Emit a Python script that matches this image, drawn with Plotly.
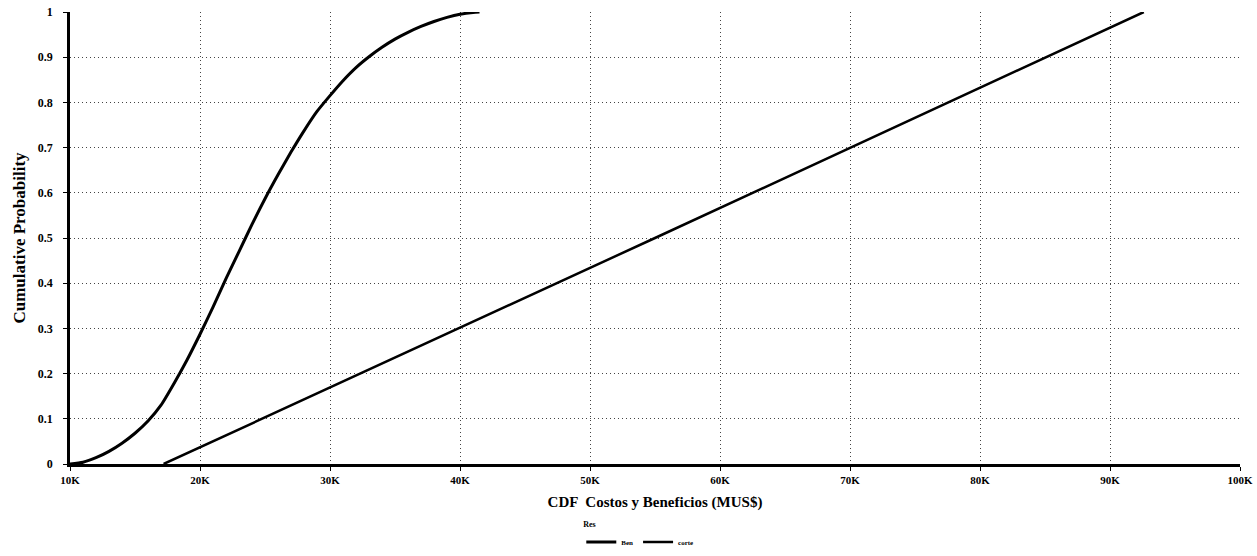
import plotly.graph_objects as go

# Data (x in thousands of MUS$)
ben_x = [10, 11, 12, 13, 14, 15, 16, 17, 18, 19, 20, 21, 22, 23, 24, 25, 26, 27, 28, 29, 30,
         31, 32, 33, 34, 35, 36, 37, 38, 39, 40, 41, 41.5]
ben_y = [0.0, 0.004, 0.014, 0.028, 0.046, 0.068, 0.095, 0.13, 0.178, 0.23, 0.287, 0.347, 0.41,
         0.47, 0.53, 0.587, 0.64, 0.69, 0.737, 0.78, 0.815, 0.848, 0.877, 0.901, 0.922, 0.94,
         0.955, 0.968, 0.979, 0.988, 0.995, 0.999, 1.0]

corte_x = [17.2, 55.0, 92.6]
corte_y = [0.0, 0.50, 1.0]

x_tickvals = [10, 20, 30, 40, 50, 60, 70, 80, 90, 100]
x_ticktext = ["10K", "20K", "30K", "40K", "50K", "60K", "70K", "80K", "90K", "100K"]
y_tickvals = [0, 0.1, 0.2, 0.3, 0.4, 0.5, 0.6, 0.7, 0.8, 0.9, 1]
y_ticktext = ["0", "0.1", "0.2", "0.3", "0.4", "0.5", "0.6", "0.7", "0.8", "0.9", "1"]

FONT = "Liberation Serif, Times New Roman, serif"

fig = go.Figure()
fig.add_trace(go.Scatter(x=ben_x, y=ben_y, mode="lines", name="Ben",
                         line=dict(color="black", width=3, shape="spline", smoothing=0.6)))
fig.add_trace(go.Scatter(x=corte_x, y=corte_y, mode="lines", name="corte",
                         line=dict(color="black", width=2.5)))

fig.update_layout(
    width=1257, height=556,
    margin=dict(l=70, r=17, t=12, b=92),
    paper_bgcolor="white", plot_bgcolor="white",
    font=dict(family=FONT, color="black"),
    showlegend=True,
    legend=dict(
        orientation="h", x=0.437, y=0.07, xanchor="left", yanchor="top",
        yref="container",
        title=dict(text="<b>Res</b>", side="top", font=dict(size=8)),
        font=dict(size=7, weight="bold"),
        tracegroupgap=0,
    ),
    xaxis=dict(
        range=[10, 100], tickvals=x_tickvals, ticktext=x_ticktext,
        showgrid=True, gridcolor="#444444", griddash="1px,3px", gridwidth=1,
        showline=True, linecolor="black", linewidth=2.5,
        ticks="outside", ticklen=4, tickcolor="black",
        tickfont=dict(size=11, weight="bold", family=FONT),
        zeroline=False, automargin=False,
        title=dict(text="<b>CDF  Costos y Beneficios (MUS$)</b>", font=dict(size=15, family=FONT), standoff=12),
    ),
    yaxis=dict(
        range=[0, 1], tickvals=y_tickvals, ticktext=y_ticktext,
        showgrid=True, gridcolor="#444444", griddash="1px,3px", gridwidth=1,
        showline=True, linecolor="black", linewidth=2.5,
        ticks="outside", ticklen=4, tickcolor="black", ticklabelstandoff=8,
        tickfont=dict(size=12, weight="bold", family=FONT),
        zeroline=False, automargin=False,
        title=dict(text="<b>Cumulative Probability</b>", font=dict(size=17, family=FONT), standoff=8),
    ),
)

fig.write_html("out.html", config={"displayModeBar": False},
               post_script="document.body.style.margin='0px';document.body.style.overflow='hidden';")
